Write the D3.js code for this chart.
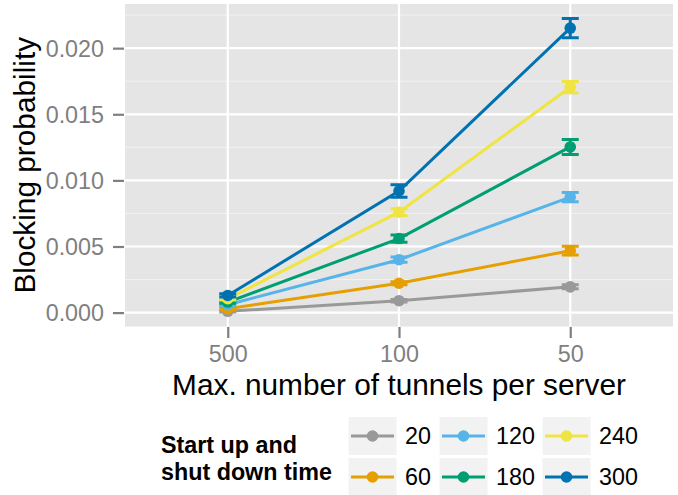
<!DOCTYPE html>
<html><head><meta charset="utf-8">
<script src="https://cdn.jsdelivr.net/npm/d3@7"></script>
<style>body{margin:0;background:#fff}svg{display:block}text{font-family:"Liberation Sans",Arial,sans-serif}</style>
</head><body><svg id="c" width="678" height="495"></svg>
<script>
const categories = ["500", "100", "50"];
const seriesNames = ["20", "60", "120", "180", "240", "300"];
const seriesColors = ["#999999", "#E69F00", "#56B4E9", "#009E73", "#F0E442", "#0072B2"];
const values20  = [0.0001, 0.0009, 0.00195];
const values60  = [0.0003, 0.00222, 0.00468];
const values120 = [0.0006, 0.0040, 0.00874];
const values180 = [0.0008, 0.0056, 0.01253];
const values240 = [0.00105, 0.0076, 0.01705];
const values300 = [0.0013, 0.0092, 0.02152];
const err20  = [0.00005, 0.0001, 0.00015];
const err60  = [0.00008, 0.00012, 0.00033];
const err120 = [0.0001, 0.0002, 0.00035];
const err180 = [0.0001, 0.00027, 0.00057];
const err240 = [0.0001, 0.00025, 0.00042];
const err300 = [0.00012, 0.00047, 0.00073];
const yTicks = [0, 0.005, 0.010, 0.015, 0.020];
const yMinorTicks = [0.0025, 0.0075, 0.0125, 0.0175, 0.0225];

const allValues = [values20, values60, values120, values180, values240, values300];
const allErr = [err20, err60, err120, err180, err240, err300];
const series = seriesNames.map((n, i) => ({name: n, color: seriesColors[i],
  pts: categories.map((c, j) => ({c, v: allValues[i][j], e: allErr[i][j]}))}));

const svg = d3.select("#c");
const P = {l: 125, r: 673, t: 4, b: 326.5};

const x = d3.scalePoint().domain(categories).range([P.l, P.r]).padding(0.6);
const y = d3.scaleLinear().domain([-0.00105, 0.02334]).range([P.b, P.t]);

// panel
svg.append("rect").attr("x", P.l).attr("y", P.t).attr("width", P.r - P.l).attr("height", P.b - P.t).attr("fill", "#E5E5E5");
const g = svg.append("g");
yMinorTicks.forEach(t => g.append("line").attr("x1", P.l).attr("x2", P.r).attr("y1", y(t)).attr("y2", y(t)).attr("stroke", "#F2F2F2").attr("stroke-width", 1));
yTicks.forEach(t => g.append("line").attr("x1", P.l).attr("x2", P.r).attr("y1", y(t)).attr("y2", y(t)).attr("stroke", "#fff").attr("stroke-width", 2.2));
categories.forEach(c => g.append("line").attr("x1", x(c)).attr("x2", x(c)).attr("y1", P.t).attr("y2", P.b).attr("stroke", "#fff").attr("stroke-width", 2.2));

// axes
const yAxis = d3.axisLeft(y).tickValues(yTicks).tickFormat(d3.format(".3f")).tickSize(11).tickPadding(9);
const ya = svg.append("g").attr("transform", `translate(${P.l - 1},0)`).call(yAxis);
const xAxis = d3.axisBottom(x).tickSize(11).tickPadding(7);
const xa = svg.append("g").attr("transform", `translate(0,${P.b + 0.5})`).call(xAxis);
[ya, xa].forEach(a => {
  a.select(".domain").remove();
  a.selectAll(".tick line").attr("stroke", "#7F7F7F").attr("stroke-width", 2.2);
  a.selectAll(".tick text").attr("fill", "#7F7F7F").style("font-size", "23.3px");
});
ya.selectAll(".tick text").attr("dy", "0.35em");
xa.selectAll(".tick text").attr("dy", "0.71em");

// titles
svg.append("text").attr("x", (P.l + P.r) / 2).attr("y", 395).attr("text-anchor", "middle").style("font-size", "29.8px").attr("fill", "#000").text("Max. number of tunnels per server");
svg.append("text").attr("transform", `translate(35,${(P.t + P.b) / 2}) rotate(-90)`).attr("text-anchor", "middle").style("font-size", "29.8px").attr("fill", "#000").text("Blocking probability");

// data
const line = d3.line().x(d => x(d.c)).y(d => y(d.v));
series.forEach(s => svg.append("path").attr("d", line(s.pts)).attr("fill", "none").attr("stroke", s.color).attr("stroke-width", 3));
const cap = 8.5;
series.forEach(s => {
  const eg = svg.append("g").attr("stroke", s.color).attr("stroke-width", 3).attr("fill", "none");
  s.pts.forEach(p => {
    const cx = x(p.c), y1 = y(p.v - p.e), y2 = y(p.v + p.e);
    eg.append("path").attr("d", `M${cx - cap},${y1}H${cx + cap}M${cx},${y1}V${y2}M${cx - cap},${y2}H${cx + cap}`);
  });
  svg.append("g").selectAll("circle").data(s.pts).join("circle")
    .attr("cx", d => x(d.c)).attr("cy", d => y(d.v)).attr("r", 5.8).attr("fill", s.color);
});

// legend
const lt = svg.append("text").style("font-size", "23.3px").style("font-weight", "bold").attr("fill", "#000");
lt.append("tspan").attr("x", 161).attr("y", 453).text("Start up and");
lt.append("tspan").attr("x", 161).attr("y", 480).text("shut down time");
const colX = [348, 439, 542];
const rowY = [416.5, 457.5];
const kw = 49, kh = 39;
series.forEach((s, i) => {
  const col = Math.floor(i / 2), row = i % 2;
  const kx = colX[col], ky = rowY[row];
  svg.append("rect").attr("x", kx).attr("y", ky).attr("width", kw).attr("height", kh).attr("fill", "#F2F2F2").attr("stroke", "#fff").attr("stroke-width", 1);
  svg.append("line").attr("x1", kx + 3).attr("x2", kx + kw - 3).attr("y1", ky + kh / 2).attr("y2", ky + kh / 2).attr("stroke", s.color).attr("stroke-width", 3);
  svg.append("circle").attr("cx", kx + kw / 2).attr("cy", ky + kh / 2).attr("r", 5.8).attr("fill", s.color);
  svg.append("text").attr("x", kx + kw + 8).attr("y", ky + kh / 2 + 8).style("font-size", "23.3px").attr("fill", "#000").text(s.name);
});
</script></body></html>
